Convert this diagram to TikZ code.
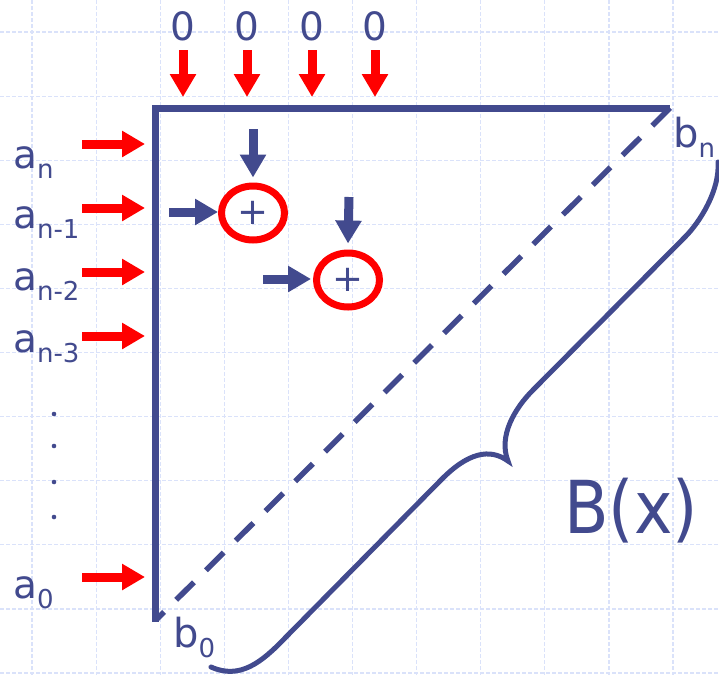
\documentclass[tikz,border=0pt]{standalone}
\usepackage{fontspec}
\setmainfont{DejaVu Sans}
\usetikzlibrary{arrows.meta,shapes.geometric}
\definecolor{navy}{HTML}{424A8E}
\definecolor{gridc}{HTML}{DAE2FA}
\definecolor{redc}{HTML}{FF0000}
\newcommand\subs[1]{\raisebox{-10pt}{\fontsize{26pt}{26pt}\selectfont #1}}
\tikzset{
  gridline/.style={draw=gridc, line width=1.2pt, dash pattern=on 4pt off 2pt},
  frameline/.style={draw=navy, line width=7pt, line join=miter},
  diagline/.style={draw=navy, line width=5.5pt, dash pattern=on 25pt off 17pt},
  braceline/.style={draw=navy, line width=5pt, line cap=round},
  redarr/.style={draw=redc, line width=9pt, -{Triangle[length=23pt,width=25pt]}},
  navyarr/.style={draw=navy, line width=9pt, -{Triangle[length=23pt,width=25pt]}},
  lab/.style={text=navy, inner sep=0pt, font=\fontsize{39pt}{39pt}\selectfont},
  blab/.style={text=navy, inner sep=0pt, font=\fontsize{40pt}{40pt}\selectfont},
  sumnode/.style={ellipse, draw=redc, line width=7pt, minimum width=63pt, minimum height=54pt,
     inner sep=0pt, text=navy, font=\fontsize{37pt}{37pt}\selectfont},
}
\begin{document}
\begin{tikzpicture}[x=1pt,y=-1pt]
\useasboundingbox (0,0) rectangle (719,675);
\fill[white] (0,0) rectangle (719,675);
% background grid
\foreach \i in {0,...,10}{
  \draw[gridline] (32+64.1*\i,0) -- (32+64.1*\i,675);
  \draw[gridline] (0,32+64.1*\i) -- (719,32+64.1*\i);
}
% frame
\coordinate (TL) at (155,108);
\coordinate (TR) at (670,108);
\coordinate (BL) at (155,622);
\coordinate (BD) at (156,620);
\draw[frameline] (TR) -- (TL) -- (BL);
\draw[diagline] (TR) -- (BD);
% top zeros and arrows
\foreach \n/\x in {1/183,2/247,3/312,4/375}{
  \node[lab, anchor=base] (z\n) at (\x,40) {0};
  \coordinate (zs\n) at (\x,50);
  \coordinate (ze\n) at (\x,97);
  \draw[redarr] (zs\n) -- (ze\n);
}
% left labels and arrows
\node[lab, anchor=base west] (an)  at (13,168) {a\subs{n}};
\node[lab, anchor=base west] (an1) at (13,228) {a\subs{n-1}};
\node[lab, anchor=base west] (an2) at (13,290) {a\subs{n-2}};
\node[lab, anchor=base west] (an3) at (13,352) {a\subs{n-3}};
\node[lab, anchor=base west] (a0)  at (13,598) {a\subs{0}};
\foreach \n/\y in {1/144,2/208,3/272,4/336,5/577}{
  \coordinate (as\n) at (82,\y);
  \coordinate (ae\n) at (145,\y);
  \draw[redarr] (as\n) -- (ae\n);
}
% dots
\foreach \y in {414,446,482,517}{
  \fill[navy] (54,\y) circle (2.3pt);
}
% adders
\node[sumnode] (s1) at (253,213) {+};
\node[sumnode] (s2) at (348,280) {+};
\coordinate (d1) at (253,129);
\coordinate (r1) at (169,212);
\coordinate (d2) at (349,197);
\coordinate (r2) at (263,279);
\draw[navyarr] (d1) -- ([yshift=5pt]s1.north);
\draw[navyarr] (r1) -- (r1 -| s1.west);
\draw[navyarr] (d2) -- ([yshift=6pt]s2.north);
\draw[navyarr] (r2) -- ([xshift=-2pt]r2 -| s2.west);
% b labels
\node[blab, anchor=base west] (bn) at (673,147) {b\subs{n}};
\node[blab, anchor=base west] (b0) at (173,647) {b\subs{0}};
% brace
\draw[braceline] (718,162) .. controls (720,190) and (700,222) .. (685,237)
  -- (533,390) .. controls (515,408) and (498,436) .. (508,461)
  .. controls (490,448) and (468,452) .. (440,481)
  -- (285,638) .. controls (262,662) and (240,680) .. (211,667);
% B(x)
\node[text=navy, inner sep=0pt, anchor=base west, font=\fontsize{73pt}{73pt}\selectfont] (Bx) at (564,533) {\scalebox{0.89}[1]{B(x)}};
\end{tikzpicture}
\end{document}
